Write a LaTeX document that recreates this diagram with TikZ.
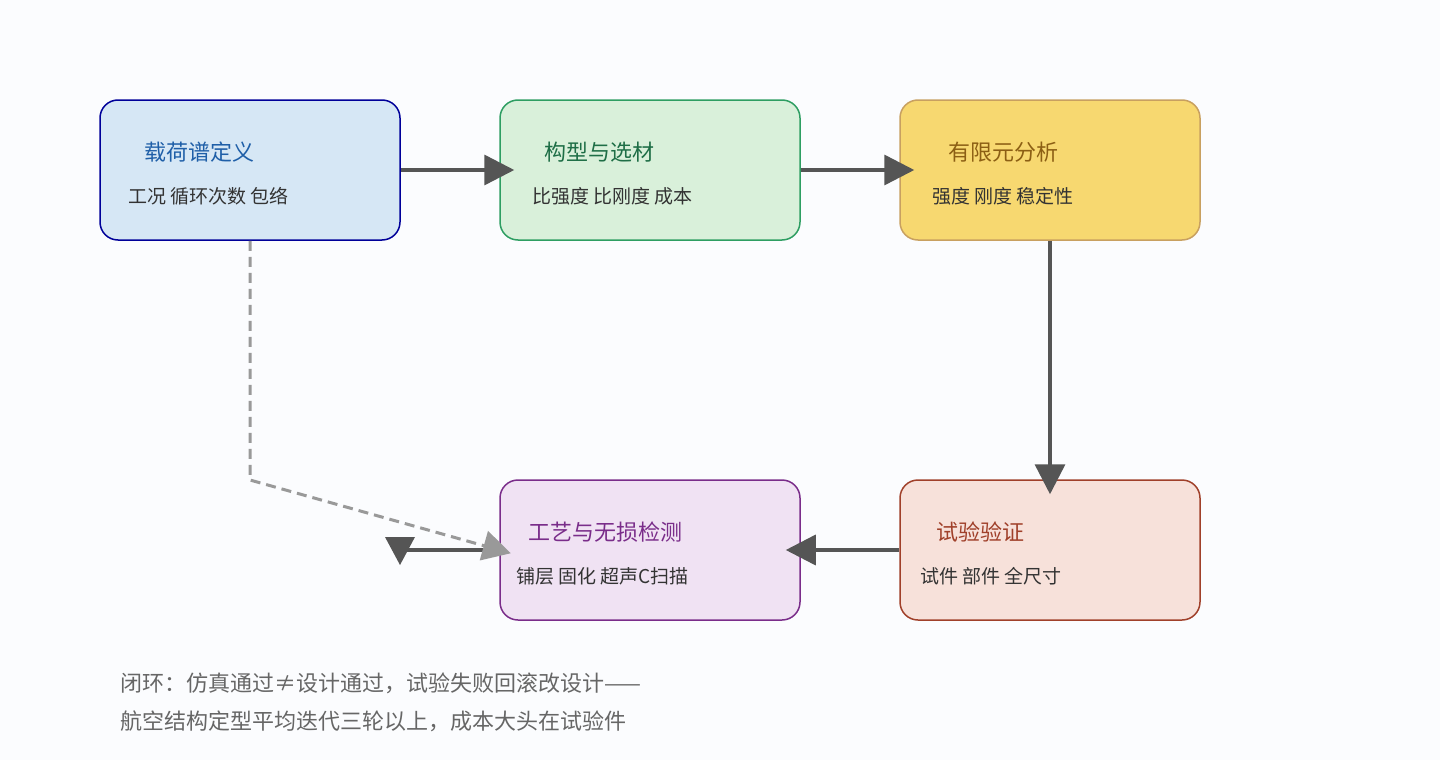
\documentclass[tikz,border=0pt]{standalone}
\usepackage{fontspec}
\setmainfont{Noto Sans CJK SC}
\usetikzlibrary{arrows.meta,positioning,calc}
\definecolor{bgc}{HTML}{FBFCFE}
\definecolor{linec}{HTML}{555555}

\begin{document}
\begin{tikzpicture}[
		x=1pt,y=-1pt,
		box/.style={draw,line width=1.5pt,rounded corners=18pt,minimum width=300pt,minimum height=140pt,inner sep=0pt},
		ttl/.style={anchor=west,font=\fontsize{22}{24}\selectfont,inner sep=0pt},
		sub/.style={anchor=west,font=\fontsize{19}{22}\selectfont,text=black!80,inner sep=0pt},
		flow/.style={linec,line width=3.5pt,-{Triangle[length=30pt,width=30pt]},shorten >=-15pt}
	]

	% background and margins
	\fill[bgc] (0,0) rectangle (1440,760);
	\useasboundingbox (0,0) rectangle (1440,760);

	% boxes
	\node[box,draw=blue!60!black,fill={rgb,255:red,214;green,231;blue,245}] (load) at (250,170) {};
	\node[box,draw={rgb,255:red,46;green,158;blue,98},fill={rgb,255:red,217;green,240;blue,218}] (conf) at (650,170) {};
	\node[box,draw={rgb,255:red,200;green,160;blue,96},fill={rgb,255:red,247;green,216;blue,112}] (fea) at (1050,170) {};
	\node[box,draw={rgb,255:red,122;green,45;blue,138},fill={rgb,255:red,240;green,226;blue,243}] (proc) at (650,550) {};
	\node[box,draw={rgb,255:red,160;green,64;blue,42},fill={rgb,255:red,247;green,225;blue,218}] (test) at (1050,550) {};

	% texts
	\node[ttl,text={rgb,255:red,31;green,95;blue,168}] (loadT) at (144,152) {载荷谱定义};
	\node[sub] (loadS) at (128,196) {工况 循环次数 包络};
	\node[ttl,text={rgb,255:red,30;green,110;blue,70}] (confT) at (544,152) {构型与选材};
	\node[sub] (confS) at (532,196) {比强度 比刚度 成本};
	\node[ttl,text={rgb,255:red,140;green,95;blue,20}] (feaT) at (948,152) {有限元分析};
	\node[sub] (feaS) at (932,196) {强度 刚度 稳定性};
	\node[ttl,text={rgb,255:red,122;green,45;blue,138}] (procT) at (528,532) {工艺与无损检测};
	\node[sub] (procS) at (516,576) {铺层 固化 超声C扫描};
	\node[ttl,text={rgb,255:red,160;green,64;blue,42}] (testT) at (936,532) {试验验证};
	\node[sub] (testS) at (920,576) {试件 部件 全尺寸};

	% connectors
	\draw[flow] (load.east) -- (conf.west);
	\draw[flow] (conf.east) -- (fea.west);
	\draw[flow] (fea.south) -- (test.north);
	\draw[flow] (test.west) -- (proc.east);
	\coordinate (back) at (400,550);
	\draw[linec,line width=3.5pt] (proc.west) -- (back);
	\fill[linec] ($(back)+(-15,-13)$) -- ($(back)+(15,-13)$) -- ($(back)+(0,15)$) -- cycle;
	\draw[black!40,line width=3pt,dashed,dash pattern=on 10pt off 6pt,-{Triangle[length=28pt,width=30pt]},shorten >=-12pt]
		(load.south) -- (250,480) -- (proc.west);

	% note
	\node[anchor=west,inner sep=0pt,align=left,text=black!60,font=\fontsize{22}{38}\selectfont] (note) at (120,702)
		{闭环：仿真通过≠设计通过，试验失败回滚改设计——\\航空结构定型平均迭代三轮以上，成本大头在试验件};
\end{tikzpicture}
\end{document}
